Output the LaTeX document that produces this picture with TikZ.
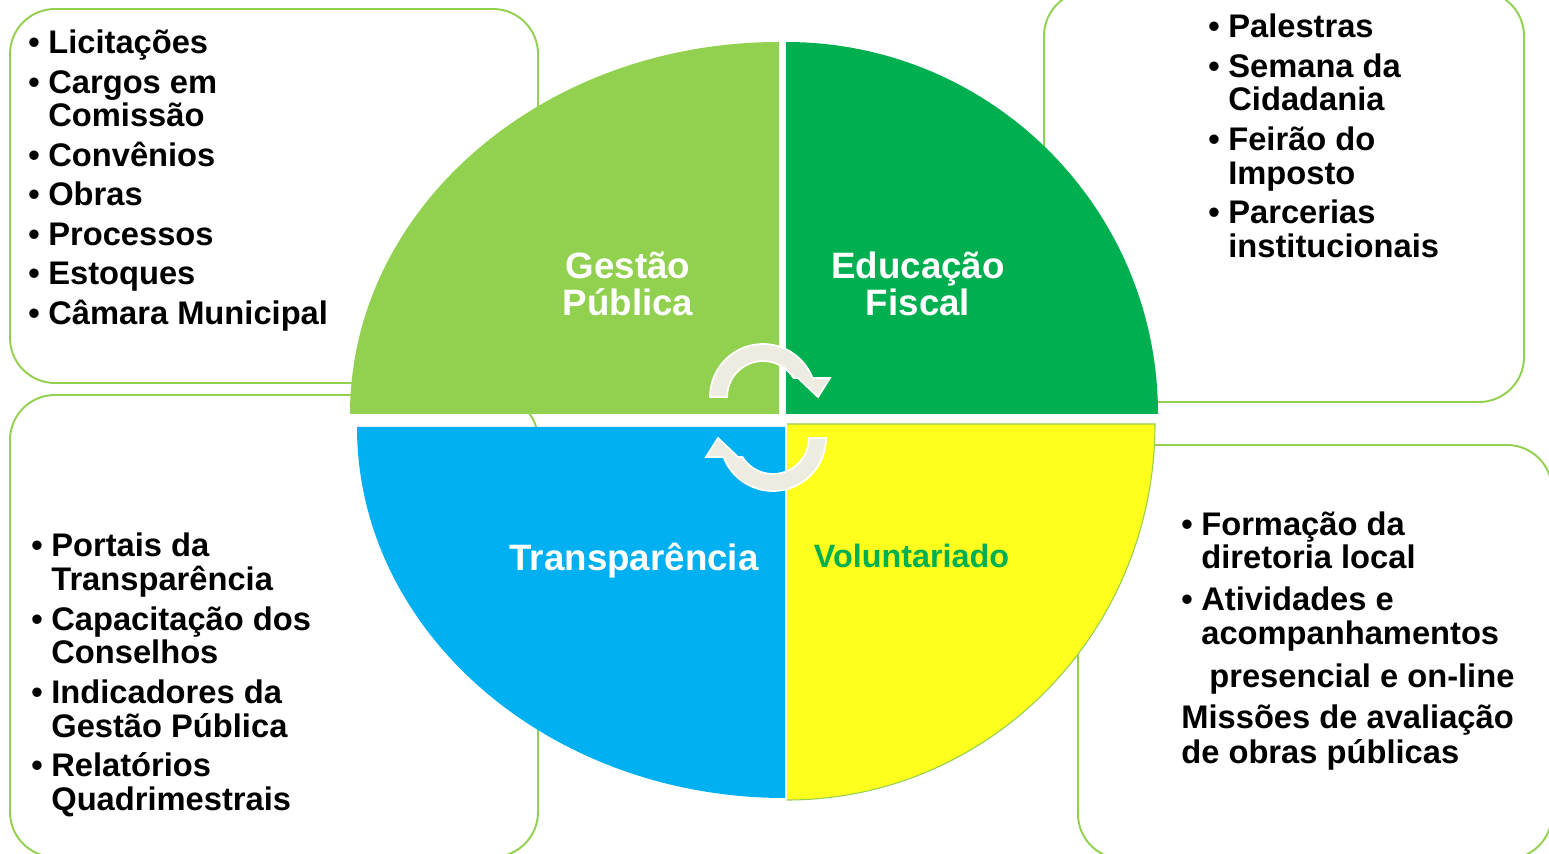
\documentclass[tikz,border=0pt]{standalone}
\usepackage{fontspec}
\setmainfont{Liberation Sans}
\definecolor{lgreen}{HTML}{92D050}
\definecolor{dgreen}{HTML}{00B050}
\definecolor{lblue}{HTML}{00B0F0}
\definecolor{lyellow}{HTML}{FFFF1E}
\definecolor{cream}{HTML}{EEECE1}
\newcommand{\itm}{\makebox[0.4cm][l]{\textbullet}}
\newcommand{\cnt}{\hspace*{0.4cm}}

\begin{document}
\begin{tikzpicture}[x=0.02cm, y=0.02cm, box/.style={draw=lgreen, line width=1.1pt, rounded corners=0.9cm}, list/.style={anchor=base west, align=left, inner sep=0, font=\fontsize{18.6}{19.2}\selectfont\bfseries}, quad/.style={anchor=base, align=center, inner sep=0, text=white, font=\fontsize{20.9}{21.5}\selectfont\bfseries}, cyc/.style={fill=cream, draw=white, line width=1pt}]
\useasboundingbox (0,0) rectangle (1549,853);
\clip (0,0) rectangle (1549,853);
\draw[box] (10,470) rectangle (538,844);
\draw[box] (1044,451) rectangle (1524,862);
\draw[box] (10,-4) rectangle (538,458);
\draw[box] (1078,-6) rectangle (1552,408);
\fill[lgreen] (779,439) -- (350,439) arc[start angle=180, end angle=90, x radius=429, y radius=372] -- cycle;
\fill[dgreen] (786,439) -- (1158,439) arc[start angle=0, end angle=90, radius=372] -- cycle;
\fill[lblue] (785,426) -- (357,426) arc[start angle=180, end angle=270, x radius=428, y radius=371] -- cycle;
\fill[lyellow] (787,429) -- (1155,429) arc[start angle=0, end angle=-90, x radius=368, y radius=376] -- cycle;
\draw[lgreen, line width=0.6pt] (787,429) -- (1155,429) arc[start angle=0, end angle=-90, x radius=368, y radius=376];
\foreach \r in {0,180}
  \filldraw[cyc, rotate around={\r:(768,435.5)}] (710,456) arc[start angle=180, end angle=21, radius=53] -- (830,475) -- (818,456) -- (798,475) -- (793.6,475) arc[start angle=31.9, end angle=180, radius=36] -- cycle;
\node[quad] (GP) at (628,537) {Gestão\\Pública};
\node[quad] (EF) at (918,537) {Educação\\Fiscal};
\node[quad] (TR) at (634,283) {Transparência};
\node[quad, text=dgreen, font=\fontsize{18.4}{19.2}\selectfont\bfseries] (VO) at (911.5,286) {Voluntariado};
\node[list] (listGP) at (28,528.5) {\itm Licitações\\[3.3pt]\itm Cargos em\\\cnt Comissão\\[3.3pt]\itm Convênios\\[3.3pt]\itm Obras\\[3.3pt]\itm Processos\\[3.3pt]\itm Estoques\\[3.3pt]\itm Câmara Municipal};
\node[list] (listEF) at (1208,595.5) {\itm Palestras\\[3.3pt]\itm Semana da\\\cnt Cidadania\\[3.3pt]\itm Feirão do\\\cnt Imposto\\[3.3pt]\itm Parcerias\\\cnt institucionais};
\node[list] (listTR) at (31,42.5) {\itm Portais da\\\cnt Transparência\\[3.3pt]\itm Capacitação dos\\\cnt Conselhos\\[3.3pt]\itm Indicadores da\\\cnt Gestão Pública\\[3.3pt]\itm Relatórios\\\cnt Quadrimestrais};
\node[list] (listVO) at (1181,90) {\itm Formação da\\\cnt diretoria local\\[4.5pt]\itm Atividades e\\\cnt acompanhamentos\\[5.6pt]\hspace*{0.56cm}presencial e on-line\\[3.9pt]Missões de avaliação\\[0.5pt]de obras públicas};
\end{tikzpicture}
\end{document}
